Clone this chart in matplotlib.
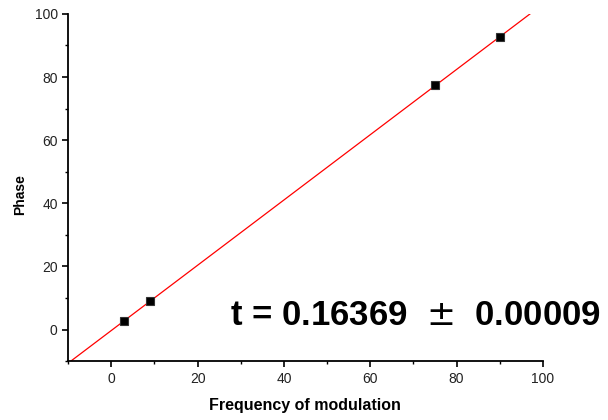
import numpy as np
import matplotlib
matplotlib.use("Agg")
import matplotlib.pyplot as plt
from matplotlib.ticker import MultipleLocator

plt.rcParams['font.family'] = ['Liberation Sans', 'DejaVu Sans']

# ------ data -------------------------------------
freq = [3, 9, 75, 90]
phase = [2.7, 9.1, 77.4, 92.6]
fit_label = "t = 0.16369  $\\pm$  0.00009"

# ------ linear fit -------------------------------
slope, icept = np.polyfit(freq, phase, 1)
xfit = np.array([-10, 100])

fig = plt.figure(figsize=(6.08, 4.20), dpi=100)
ax = fig.add_axes([0.112, 0.140, 0.781, 0.827])

ax.plot(xfit, slope * xfit + icept, color='red', lw=0.9)
ax.plot(freq, phase, 's', color='black', ms=6, mec='#333333', mew=0.8)

ax.set_xlim(-10, 100)
ax.set_ylim(-10, 100)
ax.xaxis.set_major_locator(MultipleLocator(20))
ax.xaxis.set_minor_locator(MultipleLocator(10))
ax.yaxis.set_major_locator(MultipleLocator(20))
ax.yaxis.set_minor_locator(MultipleLocator(10))

for s in ['top', 'right']:
    ax.spines[s].set_visible(False)
for s in ['left', 'bottom']:
    ax.spines[s].set_linewidth(1.3)

ax.tick_params(which='major', direction='out', length=4, width=1.2,
               labelsize=10, labelcolor='#222222')
ax.tick_params(which='minor', direction='out', length=2.5, width=1.0)

ax.set_xlabel('Frequency of modulation', fontsize=11.5, fontweight='bold')
ax.xaxis.set_label_coords(0.499, -0.107, transform=ax.transAxes)
ax.set_ylabel('Phase', fontsize=10, fontweight='bold')
ax.yaxis.set_label_coords(-0.086, 0.48, transform=ax.transAxes)

ax.text(0.341, 0.104, fit_label, transform=ax.transAxes, fontsize=25,
        fontweight='bold', ha='left', va='baseline', clip_on=False)

plt.savefig('out.png', dpi=100)
